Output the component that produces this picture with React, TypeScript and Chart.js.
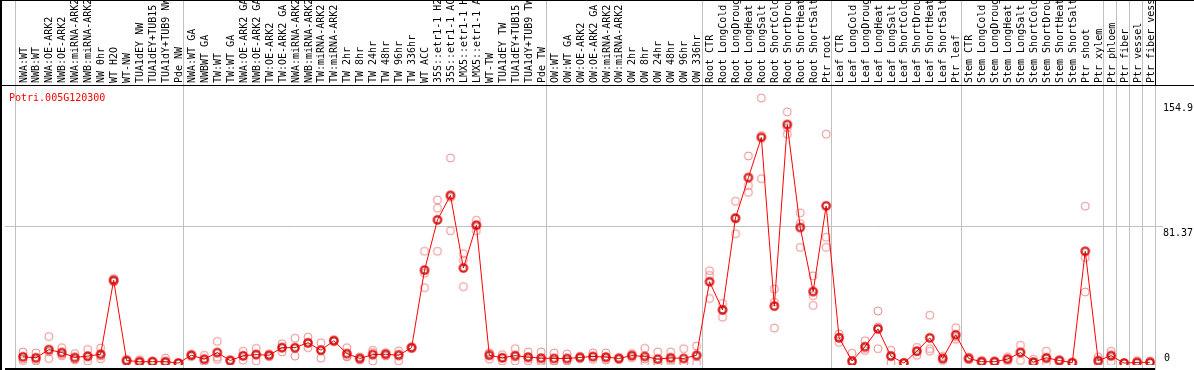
import React, { useEffect, useRef } from "react";
import { Chart, registerables } from "chart.js";

Chart.register(...registerables);

const geneName = "Potri.005G120300";

const categories = [
  "NWA:WT", "NWB:WT", "NWA:OE-ARK2", "NWB:OE-ARK2", "NWA:miRNA-ARK2", "NWB:miRNA-ARK2", "NW 0hr", "WT H2O", "WT-NW", "TUA1dEY NW", "TUA1dEY+TUB15 NW", "TUA1dY+TUB9 NW", "Pde NW",
  "NWA:WT GA", "NWBWT GA", "TW:WT", "TW:WT GA", "NWA:OE-ARK2 GA", "NWB:OE-ARK2 GA", "TW:OE-ARK2", "TW:OE-ARK2 GA", "NWA:miRNA-ARK2", "NWB:miRNA-ARK2", "TW:miRNA-ARK2", "TW:miRNA-ARK2",
  "TW 2hr", "TW 8hr", "TW 24hr", "TW 48hr", "TW 96hr", "TW 336hr", "WT ACC", "35S::etr1-1 H2O", "35S::etr1-1 ACC", "LMX5::etr1-1 H2O", "LMX5::etr1-1 ACC", "WT-TW", "TUA1dEY TW", "TUA1dEY+TUB15 TW", "TUA1dY+TUB9 TW", "Pde TW",
  "OW:WT", "OW:WT GA", "OW:OE-ARK2", "OW:OE-ARK2 GA", "OW:miRNA-ARK2", "OW:miRNA-ARK2", "OW 2hr", "OW 8hr", "OW 24hr", "OW 48hr", "OW 96hr", "OW 336hr",
  "Root CTR", "Root LongCold", "Root LongDrought", "Root LongHeat", "Root LongSalt", "Root ShortCold", "Root ShortDrought", "Root ShortHeat", "Root ShortSalt", "Ptr root",
  "Leaf CTR", "Leaf LongCold", "Leaf LongDrought", "Leaf LongHeat", "Leaf LongSalt", "Leaf ShortCold", "Leaf ShortDrought", "Leaf ShortHeat", "Leaf ShortSalt", "Ptr leaf",
  "Stem CTR", "Stem LongCold", "Stem LongDrought", "Stem LongHeat", "Stem LongSalt", "Stem ShortCold", "Stem ShortDrought", "Stem ShortHeat", "Stem ShortSalt", "Ptr shoot", "Ptr xylem",
  "Ptr phloem", "Ptr fiber", "Ptr vessel", "Ptr fiber vessel",
];

const groupSizes = [13, 28, 12, 10, 10, 11, 1, 1, 1, 1];

const meanValues = [
  3.7, 3.1, 7.9, 6.2, 3.3, 4.1, 5.2, 49.0, 1.5, 0.8, 0.8, 0.8, 0.0,
  4.6, 2.3, 6.2, 1.5, 4.3, 5.0, 4.6, 9.1, 9.1, 12.0, 7.6, 13.2, 5.6, 2.7, 5.0, 5.2, 4.6, 9.1, 55.0, 84.7, 99.2, 56.2, 81.5, 4.6, 3.1, 4.4, 3.5, 2.9,
  2.7, 2.7, 3.3, 3.9, 3.5, 2.7, 4.4, 3.9, 2.3, 3.1, 2.7, 4.6,
  48.1, 31.4, 85.8, 109.7, 133.5, 33.7, 141.1, 80.2, 42.3, 93.0,
  14.9, 1.2, 9.7, 20.2, 4.1, 0.0, 7.0, 14.9, 2.7, 16.7,
  2.7, 0.8, 0.8, 2.3, 6.2, 0.6, 3.1, 1.5, 0.2, 66.1, 1.5,
  4.3, 0.0, 0.4, 0.4,
];

const rep1 = [
  6.5, 6.0, 15.7, 9.1, 5.6, 8.1, 8.9, 50.0, 2.0, 2.0, 1.0, 3.0, 0,
  5.2, 4.6, 12.8, 2.0, 7.0, 8.7, 5.5, 11.4, 14.7, 15.3, 12.0, 13.8, 9.1, 3.7, 7.6, 6.2, 7.2, 9.6, 66.1, 96.5, 121.3, 64.7, 84.5, 6.0, 5.0, 8.5, 6.6, 6.6,
  6.0, 5.4, 4.0, 6.0, 6.0, 3.3, 5.6, 8.7, 6.6, 6.6, 8.5, 10.1,
  54.6, 35.3, 95.7, 122.5, 156.8, 43.8, 148.6, 88.9, 51.6, 135.4,
  17.2, 5.8, 13.2, 30.8, 7.6, 0.5, 9.3, 28.3, 4.0, 20.9,
  3.5, 1.5, 1.2, 3.7, 10.5, 2.3, 7.0, 2.0, 0.5, 92.8, 3.7,
  7.0, 0, 1.5, 1.2,
];

const rep2 = [
  2.5, 2.0, 6.5, 5.0, 2.4, 3.4, 4.2, 48.5, 1.2, 0.5, 0.8, 0.2, 0,
  4.5, 1.5, 3.5, 1.3, 4.3, 5.2, 4.6, 9.3, 8.6, 11.6, 7.9, 13.2, 4.0, 2.7, 6.2, 5.2, 5.3, 9.1, 53.1, 91.6, 98.0, 60.8, 81.7, 5.5, 3.1, 3.5, 2.7, 1.5,
  1.2, 1.6, 3.3, 3.5, 2.7, 2.7, 4.4, 2.4, 0.3, 1.9, 0, 3.7,
  51.9, 31.8, 85.2, 105.0, 134.6, 36.0, 139.3, 82.5, 39.9, 74.4,
  15.4, 0, 8.6, 21.3, 4.5, 0, 7.0, 8.5, 2.5, 15.3,
  2.7, 0.8, 0.8, 2.3, 6.6, 0, 2.3, 1.5, 0.2, 62.4, 0.8,
  5.0, 0, 0, 0,
];

const rep3 = [
  1.5, 1.2, 2.7, 4.3, 1.9, 1.2, 2.5, 48.0, 1.0, 0.3, 0.6, 0, 0,
  4.0, 0.8, 2.2, 1.2, 1.7, 1.2, 3.8, 6.6, 4.1, 9.1, 2.9, 12.6, 3.7, 1.7, 1.2, 4.2, 1.3, 8.6, 44.6, 66.1, 78.3, 45.2, 78.3, 2.3, 1.2, 1.2, 1.2, 0.6,
  1.0, 1.2, 2.7, 2.2, 1.8, 2.1, 3.1, 0.6, 0, 0.8, 0, 0,
  38.2, 27.1, 76.5, 101.0, 109.1, 20.7, 135.4, 68.4, 34.1, 68.4,
  12.2, 0, 7.4, 8.5, 0.2, 0, 4.6, 7.0, 1.5, 14.0,
  2.0, 0.2, 0.4, 0.9, 1.5, 0, 0, 1.0, 0, 42.0, 0,
  0.8, 0, 0, 0,
];

const yTickValues = [154.9, 81.37, 0];
const yTickLabels = ["154.9", "81.37", "0"];

const FONT = '10px "DejaVu Sans Mono", monospace';

function makeGlyph(color: string, lineWidth: number, inner: string | null): HTMLCanvasElement {
  const c = document.createElement("canvas");
  c.width = 12;
  c.height = 12;
  const g = c.getContext("2d")!;
  g.strokeStyle = color;
  g.lineWidth = lineWidth;
  g.beginPath();
  g.arc(6, 6, 4, 0, Math.PI * 2);
  g.stroke();
  if (inner) {
    g.strokeStyle = inner;
    g.lineWidth = 0.8;
    g.beginPath();
    g.arc(6, 6, 3, 0, Math.PI * 2);
    g.stroke();
  }
  return c;
}

const overlayPlugin = {
  id: "overlay",
  beforeDatasetsDraw(chart: any) {
    const { ctx, chartArea, scales } = chart;
    const x = scales.x;
    const y = scales.y;
    ctx.save();
    ctx.strokeStyle = "#c0c0c0";
    ctx.lineWidth = 1;
    const gy = Math.round(y.getPixelForValue(yTickValues[1])) + 0.5;
    ctx.beginPath();
    ctx.moveTo(chartArea.left, gy);
    ctx.lineTo(1163, gy);
    ctx.stroke();
    const bounds: number[] = [-1];
    let acc = 0;
    groupSizes.forEach((s) => {
      acc += s;
      bounds.push(acc - 1);
    });
    bounds.forEach((b, k) => {
      const px = Math.round(x.getPixelForValue(b + 0.385)) + 0.5;
      ctx.beginPath();
      ctx.moveTo(px, k === bounds.length - 1 ? 86 : 0);
      ctx.lineTo(px, 370);
      ctx.stroke();
    });
    ctx.restore();
  },
  afterDraw(chart: any) {
    const { ctx, chartArea, scales } = chart;
    const x = scales.x;
    const y = scales.y;
    const W = chart.width;
    ctx.save();
    ctx.fillStyle = "#000";
    ctx.font = FONT;
    ctx.textAlign = "left";
    ctx.textBaseline = "middle";
    categories.forEach((lab, i) => {
      const px = x.getPixelForValue(i) + 1;
      ctx.save();
      ctx.translate(px, 83);
      ctx.rotate(-Math.PI / 2);
      ctx.fillText(lab, 0, 0);
      ctx.restore();
    });
    ctx.fillStyle = "#ff0000";
    ctx.textBaseline = "alphabetic";
    ctx.fillText(geneName, 9, 101);
    ctx.fillStyle = "#000";
    yTickValues.forEach((v, k) => {
      const py = y.getPixelForValue(v);
      const last = k === yTickValues.length - 1;
      ctx.fillText(yTickLabels[k], last ? 1164 : 1163, last ? py - 2 : py + 10);
    });
    ctx.fillStyle = "#000";
    ctx.fillRect(0, 0, W, 1);
    ctx.fillRect(0, 85, W, 1);
    ctx.fillRect(0, 0, 2, 370);
    ctx.fillRect(1155, 0, 1, 86);
    ctx.fillRect(chartArea.left, 368, 1155 - chartArea.left, 2);
    ctx.restore();
  },
};

export default function App() {
  const ref = useRef<HTMLCanvasElement | null>(null);

  useEffect(() => {
    document.body.style.margin = "0";
    const canvas = ref.current!;
    const meanGlyph = makeGlyph("#ff0000", 1.6, "rgba(90,0,0,0.8)");
    const repGlyph = makeGlyph("rgba(228,120,120,0.85)", 1, null);
    const meanPts = meanValues.map((v, i) => ({ x: i, y: v }));
    const repPts: { x: number; y: number }[] = [];
    [rep1, rep2, rep3].forEach((arr) => arr.forEach((v, i) => repPts.push({ x: i, y: v })));

    const chart = new Chart(canvas, {
      type: "line",
      data: {
        datasets: [
          {
            data: meanPts,
            borderColor: "#ff0000",
            borderWidth: 1,
            pointStyle: meanGlyph as any,
            pointRadius: 4,
            tension: 0,
            order: 0,
          },
          {
            data: repPts,
            showLine: false,
            pointStyle: repGlyph as any,
            pointRadius: 4,
            order: 1,
          },
        ],
      },
      options: {
        animation: false,
        responsive: false,
        devicePixelRatio: 1,
        layout: { padding: { left: 1, right: 39, top: 86, bottom: 0 } },
        plugins: { legend: { display: false }, tooltip: { enabled: false }, title: { display: false } },
        events: [],
        scales: {
          x: { type: "linear", min: -1.385, max: 87.385, display: false },
          y: { type: "linear", min: -1.16, max: 163.9, display: false },
        },
      },
      plugins: [overlayPlugin],
    });
    return () => chart.destroy();
  }, []);

  return (
    <div style={{ width: 1194, height: 370, background: "#fff" }}>
      <canvas ref={ref} width={1194} height={370} style={{ display: "block", width: 1194, height: 370 }} />
    </div>
  );
}
